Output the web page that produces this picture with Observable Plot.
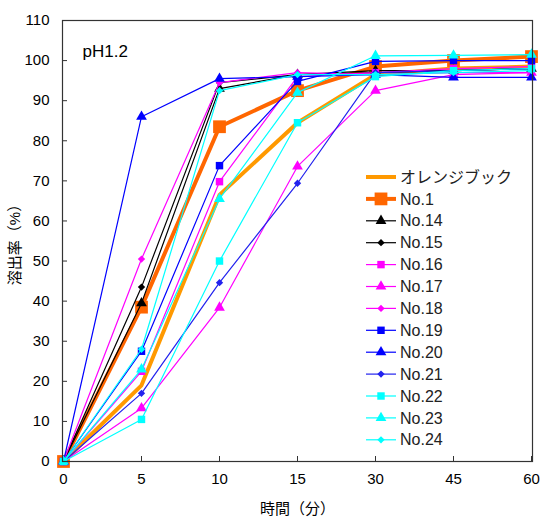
<!DOCTYPE html>
<html>
<head>
<meta charset="utf-8">
<script src="https://cdn.jsdelivr.net/npm/d3@7"></script>
<script src="https://cdn.jsdelivr.net/npm/@observablehq/plot@0.6"></script>
<style>
  html, body { margin: 0; padding: 0; background: #fff; }
  #wrap { position: relative; width: 545px; height: 521px; }
  #legend { position: absolute; left: 0; top: 0; pointer-events: none; }
</style>
</head>
<body>
<div id="wrap"></div>
<script>
const times = [0, 5, 10, 15, 30, 45, 60];
const yTicks = [0, 10, 20, 30, 40, 50, 60, 70, 80, 90, 100, 110];

const seriesNames = ["オレンジブック", "No.1", "No.14", "No.15", "No.16", "No.17", "No.18",
  "No.19", "No.20", "No.21", "No.22", "No.23", "No.24"];

const orangeBook = [0, 19, 66.5, 84.5, 96.5, 98, 98.5];
const no1  = [0, 38.5, 83.5, 92.5, 98.5, 100, 101];
const no14 = [0, 39.5, 93, 96.5, 97.5, 97.5, 98];
const no15 = [0, 43.5, 94.5, 96.5, 97, 97.5, 98];
const no16 = [0, 22.5, 69.8, 96, 97, 98, 98.5];
const no17 = [0, 13.3, 38.4, 73.6, 92.5, 96.5, 97];
const no18 = [0, 50.5, 94.5, 97, 96.5, 97, 97];
const no19 = [0, 27.5, 73.8, 94.8, 99.8, 100, 100];
const no20 = [0, 86, 95.5, 96, 96.5, 95.8, 95.8];
const no21 = [0, 17, 44.6, 69.4, 97, 97.5, 98];
const no22 = [0, 10.5, 50, 84.5, 96, 97.5, 98];
const no23 = [0, 23, 65.5, 92, 101.2, 101.3, 101.5];
const no24 = [0, 28, 92.5, 96.5, 96.5, 97, 97.5];

const seriesValues = [orangeBook, no1, no14, no15, no16, no17, no18, no19, no20, no21, no22, no23, no24];

// styles
const seriesColors = ["#FF9900", "#FF6600", "#000000", "#000000", "#FF00FF", "#FF00FF", "#FF00FF",
  "#0000FF", "#0000FF", "#2222EE", "#00FFFF", "#00FFFF", "#00FFFF"];
const seriesSymbols = [null, "square", "triangle", "diamond2", "square", "triangle", "diamond2",
  "square", "triangle", "diamond2", "square", "triangle", "diamond2"];
const seriesWidths = [4, 4, 1.2, 1.2, 1.2, 1.2, 1.2, 1.2, 1.2, 1.2, 1.2, 1.2, 1.2];
const symbolR = {square: 4.2, triangle: 4.0, diamond2: 3.3};

const series = seriesNames.map((name, i) => ({
  name,
  color: seriesColors[i],
  symbol: seriesSymbols[i],
  width: seriesWidths[i],
  r: i === 1 ? 7.2 : (seriesSymbols[i] ? symbolR[seriesSymbols[i]] : 0),
  rows: times.map((t, j) => ({t, v: seriesValues[i][j], name}))
}));

const seriesMarks = series.flatMap(s => {
  const m = [Plot.line(s.rows, {x: "t", y: "v", stroke: s.color, strokeWidth: s.width})];
  if (s.symbol) m.push(Plot.dot(s.rows, {x: "t", y: "v", symbol: s.symbol, r: s.r, fill: s.color, stroke: "none"}));
  return m;
});

const font = "'Liberation Sans', Arial, 'Noto Sans CJK JP', sans-serif";

const chart = Plot.plot({
  width: 545,
  height: 521,
  marginLeft: 62,
  marginRight: 13,
  marginTop: 20,
  marginBottom: 60,
  style: {fontFamily: font, fontSize: "15px", color: "#000", background: "#fff"},
  x: {type: "point", domain: times, padding: 0},
  y: {domain: [0, 110]},
  marks: [
    Plot.axisY(yTicks, {tickSize: 5, dx: 5, tickFormat: () => "", label: null, stroke: "#333"}),
    Plot.axisY(yTicks, {tickSize: 0, tickPadding: 13, label: "溶出率（%）", labelArrow: "none", labelAnchor: "center", labelOffset: 53, fontSize: 15}),
    Plot.axisX(times, {tickSize: 5, dy: -5, tickFormat: () => "", label: null, stroke: "#333"}),
    Plot.axisX(times, {tickSize: 0, tickPadding: 12, label: "時間（分）", labelArrow: "none", labelAnchor: "center", labelOffset: 52, fontSize: 15}),
    ...seriesMarks,
    Plot.text(["pH1.2"], {frameAnchor: "top-left", dx: 20, dy: 24, text: d => d, textAnchor: "start", fontSize: 17}),
    Plot.frame({stroke: "#333", strokeWidth: 1.2})
  ]
});

const wrap = document.getElementById("wrap");
wrap.appendChild(chart);

// legend overlay (inside plot area)
const lg = d3.select(wrap).append("svg")
  .attr("id", "legend")
  .attr("width", 545).attr("height", 521)
  .attr("font-family", font);
const symMap = {square: d3.symbolSquare, triangle: d3.symbolTriangle, diamond2: d3.symbolDiamond2};
series.forEach((s, i) => {
  const y = 177 + i * 21.9;
  const g = lg.append("g").attr("transform", `translate(0,${y})`);
  g.append("line").attr("x1", 366).attr("x2", 396).attr("y1", 0).attr("y2", 0)
    .attr("stroke", s.color).attr("stroke-width", s.width);
  if (s.symbol) {
    g.append("path")
      .attr("transform", "translate(381,0)")
      .attr("d", d3.symbol(symMap[s.symbol], s.r * s.r * Math.PI)())
      .attr("fill", s.color);
  }
  g.append("text").attr("x", 400).attr("y", 0).attr("dy", "0.35em")
    .attr("font-size", 16).attr("fill", "#222").text(s.name);
});
</script>
</body>
</html>
